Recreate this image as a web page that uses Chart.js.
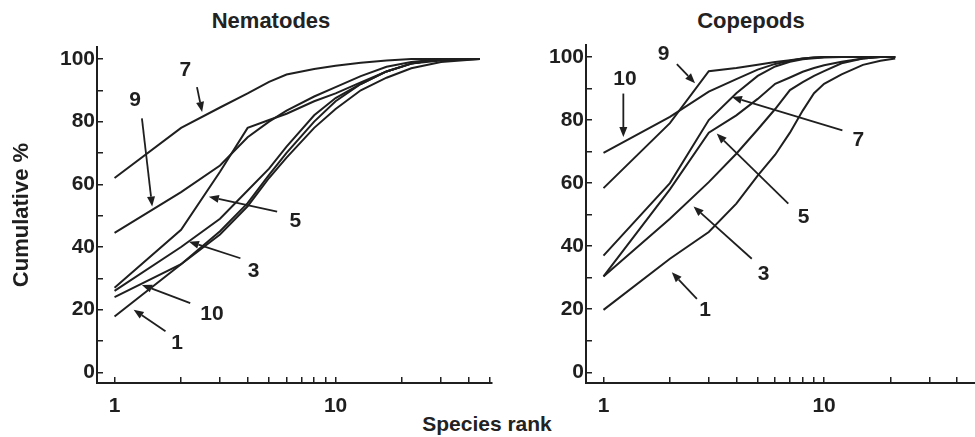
<!DOCTYPE html>
<html>
<head>
<meta charset="utf-8">
<script src="https://cdn.jsdelivr.net/npm/chart.js@4/dist/chart.umd.min.js"></script>
<style>
  html, body { margin: 0; padding: 0; background: #fff; }
  body { width: 975px; height: 437px; position: relative; overflow: hidden;
         font-family: "Liberation Sans", Arial, sans-serif; color: #222; }
  canvas { position: absolute; top: 0; }
  #nemCanvas { left: 0; }
  #copCanvas { left: 500px; }
  .title { position: absolute; top: 8px; font-weight: bold; font-size: 22px;
           transform: translateX(-50%); white-space: nowrap; }
  #nemTitle { left: 271px; }
  #copTitle { left: 751px; }
  #xTitle { position: absolute; top: 412px; left: 487px; transform: translateX(-50%);
            font-weight: bold; font-size: 21px; white-space: nowrap; }
</style>
</head>
<body>
<div class="title" id="nemTitle">Nematodes</div>
<div class="title" id="copTitle">Copepods</div>
<div id="xTitle">Species rank</div>
<canvas id="nemCanvas" width="500" height="437"></canvas>
<canvas id="copCanvas" width="475" height="437"></canvas>
<script>
// k-dominance curves, cumulative % by species rank (log scale)
const curveNames = ["1", "3", "5", "7", "9", "10"];

// Nematodes
const nemRanks = [1, 2, 3, 4, 5, 6, 8, 10, 13, 17, 22, 30, 45];
const nem1  = [17.8, 34.5, 44, 53, 62, 68.5, 78, 84, 90, 94, 97, 99, 100];
const nem3  = [26, 40, 49, 58, 65, 72, 82, 87.5, 92, 96, 98.5, 100, 100];
const nem5  = [27, 45.5, 64, 78, 80.5, 82.5, 86.5, 89, 92.5, 96, 98.5, 100, 100];
const nem7  = [62, 78, 84.5, 89, 92.7, 95, 96.8, 97.8, 98.8, 99.5, 100, 100, 100];
const nem9  = [44.5, 57.5, 66, 75, 80, 83.5, 88, 91, 94.5, 97.5, 99, 100, 100];
const nem10 = [24, 34.5, 45, 54, 63, 70, 80, 86.5, 92, 96, 98.5, 99.5, 100];

// Copepods
const copRanks = [1, 2, 3, 4, 5, 6, 7, 8, 9, 10, 12, 15, 18, 21];
const cop1  = [19.8, 36, 44.5, 53.5, 62.4, 69, 76, 83, 88.5, 91.5, 94.5, 97.5, 98.8, 99.5];
const cop3  = [30.4, 48.7, 60.3, 69.3, 77, 83.5, 89.5, 92, 94, 95.5, 98, 99.5, 100, 100];
const cop5  = [30.4, 58, 76, 81.5, 86.7, 91.5, 93.5, 95.3, 96.5, 97.4, 98.5, 99.5, 100, 100];
const cop7  = [37, 60, 80, 88.5, 94, 97, 98.5, 99.3, 99.6, 99.8, 100, 100, 100, 100];
const cop9  = [58.4, 79, 95.5, 96.5, 97.5, 98.4, 99, 99.5, 99.8, 100, 100, 100, 100, 100];
const cop10 = [69.6, 81, 89, 93, 96, 97.8, 98.8, 99.5, 99.8, 100, 100, 100, 100, 100];

// axis ticks
const yTicks = [0, 5, 10, 15, 20, 25, 30, 35, 40, 45, 50, 55, 60, 65, 70, 75, 80, 85, 90, 95, 100];
const yLabels = [0, 20, 40, 60, 80, 100];
const xTicks = [1, 2, 3, 4, 5, 6, 7, 8, 9, 10, 20, 30, 40, 50];
const xLabels = [1, 10];

// curve labels with arrows: [label, labelRank, label%, tailRank, tail%, headRank, head%]
const nemNotes = [
  ["7", 2.09, 96.4, 2.36, 91, 2.49, 83.1],
  ["9", 1.24, 86.8, 1.33, 81, 1.48, 52.9],
  ["5", 6.58, 48.1, 5.44, 51.3, 2.67, 56],
  ["3", 4.26, 32.2, 3.71, 36.4, 2.17, 41.7],
  ["10", 2.76, 18.4, 2.2, 22.1, 1.33, 27.9],
  ["1", 1.92, 9.4, 1.7, 13.1, 1.22, 20]
];
const copNotes = [
  ["9", 1.87, 101, 2.15, 97.7, 2.6, 91.7],
  ["10", 1.25, 93.1, 1.23, 88.4, 1.23, 74.6],
  ["7", 14.3, 73.6, 12.1, 76.7, 3.82, 87.3],
  ["5", 8.07, 49.2, 6.88, 53.5, 3.26, 75.7],
  ["3", 5.31, 31.2, 4.7, 36, 2.56, 52.6],
  ["1", 2.89, 19.6, 2.65, 23.3, 2.04, 31.7]
];

const ink = "#1f1f1f";
const tickFont = { family: "Liberation Sans", size: 21, weight: "bold" };

function makeDatasets(ranks, series) {
  return series.map((vals, i) => ({
    label: curveNames[i],
    data: ranks.map((r, j) => ({ x: r, y: vals[j] })),
    borderColor: ink,
    borderWidth: 2,
    pointRadius: 0,
    fill: false,
    tension: 0
  }));
}

// arrows and numbers drawn in data units through the chart's scales
const notesPlugin = {
  id: "notes",
  afterDatasetsDraw(chart, args, opts) {
    const { ctx, scales: { x, y } } = chart;
    ctx.save();
    ctx.strokeStyle = ink;
    ctx.fillStyle = ink;
    ctx.lineWidth = 1.8;
    ctx.font = "bold 21px 'Liberation Sans'";
    ctx.textAlign = "center";
    ctx.textBaseline = "middle";
    opts.notes.forEach(n => {
      const lx = x.getPixelForValue(n[1]), ly = y.getPixelForValue(n[2]);
      const tx = x.getPixelForValue(n[3]), ty = y.getPixelForValue(n[4]);
      const hx = x.getPixelForValue(n[5]), hy = y.getPixelForValue(n[6]);
      ctx.fillText(n[0], lx, ly);
      const ang = Math.atan2(hy - ty, hx - tx);
      const len = 10, half = 4;
      const bx = hx - len * Math.cos(ang), by = hy - len * Math.sin(ang);
      ctx.beginPath();
      ctx.moveTo(tx, ty);
      ctx.lineTo(bx, by);
      ctx.stroke();
      ctx.beginPath();
      ctx.moveTo(hx, hy);
      ctx.lineTo(bx + half * Math.sin(ang), by - half * Math.cos(ang));
      ctx.lineTo(bx - half * Math.sin(ang), by + half * Math.cos(ang));
      ctx.closePath();
      ctx.fill();
    });
    ctx.restore();
  }
};

function makeChart(canvasId, ranks, series, notes, opt) {
  const ctx = document.getElementById(canvasId).getContext("2d");
  return new Chart(ctx, {
    type: "line",
    data: { datasets: makeDatasets(ranks, series) },
    plugins: [notesPlugin],
    options: {
      responsive: false,
      animation: false,
      layout: { padding: { top: opt.top, right: opt.right, left: 0, bottom: 0 } },
      plugins: {
        legend: { display: false },
        tooltip: { enabled: false },
        notes: { notes: notes }
      },
      scales: {
        x: {
          type: "logarithmic",
          min: 0.833,
          max: opt.xMax,
          afterBuildTicks: (s) => { s.ticks = xTicks.map(v => ({ value: v })); },
          afterFit: (s) => { s.height = 54; s.paddingLeft = 0; s.paddingRight = 0; },
          grid: { drawOnChartArea: false, drawTicks: true, tickLength: -6, color: ink, lineWidth: 1.5 },
          border: { display: true, color: ink, width: 2 },
          ticks: {
            autoSkip: false, maxRotation: 0, padding: 17, color: ink, font: tickFont,
            callback: (v) => xLabels.includes(v) ? String(v) : ""
          }
        },
        y: {
          min: -3.4,
          max: 103.8,
          afterBuildTicks: (s) => { s.ticks = yTicks.map(v => ({ value: v })); },
          afterFit: (s) => { s.width = opt.yWidth; s.paddingTop = 0; s.paddingBottom = 0; },
          grid: { drawOnChartArea: false, drawTicks: true, tickLength: -6, color: ink, lineWidth: 1.5 },
          border: { display: true, color: ink, width: 2 },
          ticks: {
            padding: 8, color: ink, font: tickFont,
            callback: (v) => yLabels.includes(v) ? String(v) : ""
          },
          title: {
            display: opt.yTitle,
            text: "Cumulative %",
            color: ink,
            font: { family: "Liberation Sans", size: 22, weight: "bold" },
            padding: { top: 9, bottom: 0 }
          }
        }
      }
    }
  });
}

makeChart("nemCanvas", nemRanks, [nem1, nem3, nem5, nem7, nem9, nem10], nemNotes,
  { top: 47, right: 8, xMax: 51, yWidth: 97, yTitle: true });
makeChart("copCanvas", copRanks, [cop1, cop3, cop5, cop7, cop9, cop10], copNotes,
  { top: 45, right: 0, xMax: 48.3, yWidth: 86, yTitle: false });
</script>
</body>
</html>
